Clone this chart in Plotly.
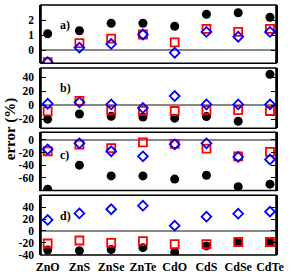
import plotly.graph_objects as go

compounds = ["ZnO", "ZnS", "ZnSe", "ZnTe", "CdO", "CdS", "CdSe", "CdTe"]

# panel a
a_circle = [1.1, 1.3, 1.8, 1.8, 1.6, 2.4, 2.5, 2.2]
a_square = [-0.8, 0.48, 0.77, 1.05, 0.52, 1.43, 1.23, 1.43]
a_diamond = [-0.8, 0.17, 0.42, 1.05, -0.17, 1.22, 0.9, 1.22]
# panel b
b_circle = [-20, -12.6, -16, -17, -18.6, -16.3, -23, 44]
b_square = [-9, 6, -7, -8, -8.4, -7, -7, -8.4]
b_diamond = [2, 4, 1, -4, 13, 1, 1, 1]
# panel c
c_circle = [-78, -40, -57, -57, -62, -56, -74, -70]
c_square = [-18, -7.5, -13, -4, -6.5, -14, -26, -19]
c_diamond = [-15, -5.5, -18, -26, -7, -5.5, -27, -31]
# panel d
d_circle = [-32, -33, -31, -28, -36, -25, -19.5, -19.5]
d_square = [-21, -16, -20, -17, -22, -22, -18.5, -18.5]
d_diamond = [18.5, 29.5, 36.5, 42.5, 9, 24, 29, 32.5]

panels = [
    ("a)", a_circle, a_square, a_diamond, [-0.87, 3.02], [0, 1, 2, 3], ["0", "1", "2", "3"], [0.767, 1.0], 0.81),
    ("b)", b_circle, b_square, b_diamond, [-33, 53], [-20, 0, 20, 40], ["-20", "0", "20", "40"], [0.507, 0.748], 0.82),
    ("c)", c_circle, c_square, c_diamond, [-80, 12], [-60, -40, -20, 0], ["-60", "-40", "-20", "0"], [0.258, 0.491], 0.76),
    ("d)", d_circle, d_square, d_diamond, [-40.3, 60], [-40, -20, 0, 20, 40], ["-40", "-20", "0", "20", "40"], [0.0, 0.239], 0.80),
]

xpos = list(range(len(compounds)))
font_family = "Liberation Serif"
fig = go.Figure()

for i, (lab, circ, sq, dia, yr, tv, tt, dom, ly) in enumerate(panels):
    n = i + 1
    xa = "x" if n == 1 else f"x{n}"
    ya = "y" if n == 1 else f"y{n}"
    fig.add_trace(go.Scatter(x=xpos, y=circ, mode="markers", xaxis=xa, yaxis=ya,
                             marker=dict(symbol="circle", size=9, color="black"),
                             showlegend=False))
    fig.add_trace(go.Scatter(x=xpos, y=sq, mode="markers", xaxis=xa, yaxis=ya,
                             marker=dict(symbol="square-open", size=8, color="#ff0000",
                                         line=dict(width=1.8, color="#ff0000")),
                             showlegend=False))
    fig.add_trace(go.Scatter(x=xpos, y=dia, mode="markers", xaxis=xa, yaxis=ya,
                             marker=dict(symbol="diamond-open", size=7.5, color="#0000ff",
                                         line=dict(width=1.8, color="#0000ff")),
                             showlegend=False))
    xkey = "xaxis" if n == 1 else f"xaxis{n}"
    ykey = "yaxis" if n == 1 else f"yaxis{n}"
    fig.update_layout({
        xkey: dict(domain=[0, 1], range=[-0.21, 7.19], anchor=ya,
                   tickvals=xpos, ticktext=[f"<b>{c}</b>" for c in compounds],
                   showticklabels=(n == 4),
                   ticks="", showgrid=False, zeroline=False,
                   showline=False, ticklabelstandoff=3,
                   tickfont=dict(family=font_family, size=12, color="black")),
        ykey: dict(domain=dom, range=yr, anchor=xa, tickvals=tv,
                   ticktext=[f"<b>{t}</b>" for t in tt],
                   ticks="inside", ticklen=5, tickwidth=1.2, tickcolor="black",
                   showgrid=False, zeroline=True, zerolinecolor="#888888", zerolinewidth=2,
                   showline=True, linecolor="black", linewidth=1.6, mirror="ticks",
                   ticklabelstandoff=3,
                   tickfont=dict(family=font_family, size=11.5, color="black")),
    })
    fig.add_shape(type="rect", xref=f"{xa} domain", yref=f"{ya} domain",
                  x0=0, x1=1, y0=0, y1=1, line=dict(color="black", width=1.6),
                  layer="above")
    fig.add_annotation(text=f"<b>{lab}</b>", xref=f"{xa} domain", yref=f"{ya} domain",
                       x=0.074, y=ly, showarrow=False,
                       font=dict(family=font_family, size=12, color="black"))

fig.add_annotation(text="<b>error (%)</b>", xref="paper", yref="paper",
                   x=-0.13, xanchor="center", y=0.505, yanchor="middle", textangle=-90,
                   showarrow=False, font=dict(family=font_family, size=15, color="black"))

fig.update_layout(
    width=289, height=279,
    margin=dict(l=41, r=10, t=5, b=21),
    plot_bgcolor="white", paper_bgcolor="white",
    font=dict(family=font_family, size=12, color="black"),
)

fig.write_html("out.html", config={"displayModeBar": False},
               post_script="document.body.style.margin='0px';")
